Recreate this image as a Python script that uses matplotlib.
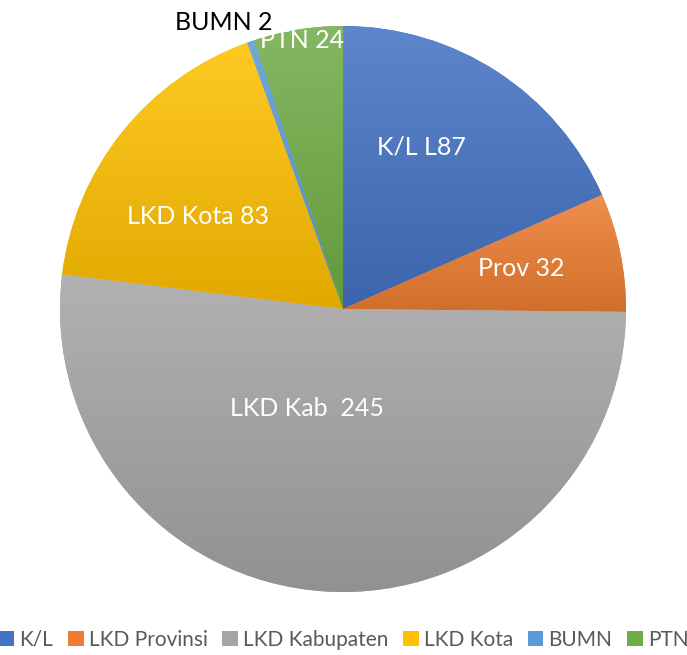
import numpy as np
import matplotlib.pyplot as plt
from matplotlib.colors import to_rgb
from matplotlib.patches import Patch

# data
categories = ["K/L", "LKD Provinsi", "LKD Kabupaten", "LKD Kota", "BUMN", "PTN"]
values = [87, 32, 245, 83, 2, 24]
slice_labels = ["K/L L87", "Prov 32", "LKD Kab  245", "LKD Kota 83", "BUMN 2", "PTN 24"]
colors = ["#4472C4", "#ED7D31", "#A5A5A5", "#FFC000", "#5B9BD5", "#70AD47"]

plt.rcParams["font.family"] = ["Lato", "DejaVu Sans"]

fig = plt.figure(figsize=(6.87, 6.55), dpi=100)
W, H = 687, 655
cx, cy, r = 343, 309, 283
ax = fig.add_axes([(cx - r) / W, (H - cy - r) / H, 2 * r / W, 2 * r / H])

wedges, _ = ax.pie(values, colors=colors, startangle=90, counterclock=False,
                   radius=1, wedgeprops=dict(linewidth=0))
ax.set_xlim(-1, 1)
ax.set_ylim(-1, 1)
ax.set_aspect("equal")
ax.axis("off")


def shade(c, t):
    # t > 0 lighten toward white, t < 0 darken toward black
    c = np.array(to_rgb(c))
    if t > 0:
        return c + (1 - c) * t
    return c * (1 + t)


# vertical gradient per slice, like the office-style fill
fig.canvas.draw()
for w, c in zip(wedges, colors):
    bb = w.get_path().transformed(w.get_patch_transform()).get_extents()
    top = shade(c, 0.14)
    bot = shade(c, -0.12)
    n = 256
    t = np.linspace(0, 1, n)[:, None, None]
    img = top * (1 - t) + bot * t
    img = np.repeat(img, 2, axis=1)
    im = ax.imshow(img, extent=[bb.x0, bb.x1, bb.y0, bb.y1], origin="upper",
                   aspect="auto", zorder=w.get_zorder() + 0.1, interpolation="bilinear")
    im.set_clip_path(w)
ax.set_xlim(-1, 1)
ax.set_ylim(-1, 1)

# slice labels (pixel positions in the figure)
label_pos = [(421, 147), (521, 269), (307, 408), (198, 216), (224, 22), (302, 41)]
label_col = ["white", "white", "white", "white", "black", "white"]
for s, (px, py), col in zip(slice_labels, label_pos, label_col):
    fig.text(px / W, 1 - py / H, s, color=col, fontsize=18, ha="center", va="center")

handles = [Patch(facecolor=c, edgecolor="none") for c in colors]
fig.legend(handles, categories, loc="center", bbox_to_anchor=(0.5, 1 - 640 / H),
           ncol=6, frameon=False, fontsize=15, handlelength=0.75, handleheight=0.75,
           handletextpad=0.25, columnspacing=0.7, labelcolor="#595959",
           borderpad=0, borderaxespad=0)

fig.savefig("out.png", dpi=100)
